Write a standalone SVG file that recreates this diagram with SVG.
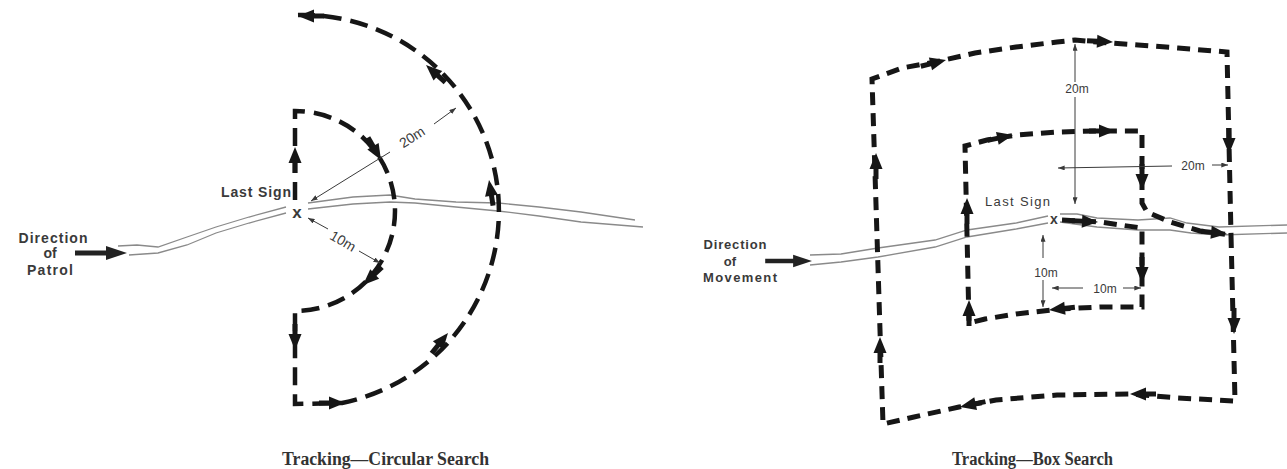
<svg xmlns="http://www.w3.org/2000/svg" width="1287" height="469" viewBox="0 0 1287 469">
<style>
.lp{fill:none;stroke:#161616;stroke-width:4.5;stroke-dasharray:18 9}
.rp{fill:none;stroke:#161616;stroke-width:5;stroke-dasharray:13 8;stroke-linejoin:miter}
.rv{fill:none;stroke:#8a8a8a;stroke-width:1.3}
.dm{fill:none;stroke:#3a3a3a;stroke-width:1;marker-end:url(#sm)}
.lb{font-family:"Liberation Sans",Arial,sans-serif;fill:#3a3a3a}
.b{font-weight:bold}
.cap{font-family:"Liberation Serif","Times New Roman",serif;font-weight:bold;font-size:18px;fill:#333}
.sh{stroke:#161616;stroke-width:5}
.hd{fill:#161616}
</style>
<defs>
<marker id="sm" viewBox="0 0 8 6" refX="8" refY="3" markerWidth="7" markerHeight="5" markerUnits="userSpaceOnUse" orient="auto"><path d="M0 0L8 3L0 6Z" fill="#3a3a3a"/></marker>
<g id="ar"><path class="sh" d="M-26 0H-10"/><path class="hd" d="M0 0L-16 -6.5L-16 6.5Z"/></g>
<g id="big"><path d="M-52 0H-17" stroke="#222" stroke-width="5"/><path d="M0 0L-21 -7L-21 7Z" fill="#222"/></g>
</defs>
<rect width="1287" height="469" fill="#fff"/>

<!-- LEFT: circular search -->
<g id="river-left">
<path class="rv" d="M118 246 L137 245 L158 247 L187 237 L216 227 L249 217 L286 207"/>
<path class="rv" d="M129 255 L158 253 L187 245 L216 233 L249 223 L286 213"/>
<path class="rv" d="M308 203 L353 197 L390 195 L415 199 L456 202 L498 203 L539 207 L581 212 L635 220"/>
<path class="rv" d="M308 209 L353 204 L390 202 L415 203 L456 207 L498 211 L539 216 L581 222 L643 227"/>
</g>
<g id="direction-patrol">
<text class="lb b" font-size="14" text-anchor="middle" x="53" y="243" textLength="69" lengthAdjust="spacing">Direction</text>
<text class="lb b" font-size="14" text-anchor="middle" x="50" y="258">of</text>
<text class="lb b" font-size="14" text-anchor="middle" x="50" y="275" textLength="46" lengthAdjust="spacing">Patrol</text>
<use href="#big" transform="translate(127,253)"/>
</g>
<g id="last-sign-left">
<text class="lb b" font-size="14" x="221" y="197" textLength="70" lengthAdjust="spacing">Last Sign</text>
<text class="lb b" font-size="17" text-anchor="middle" x="297" y="218" fill="#222">x</text>
</g>
<g id="connectors-left">
<path class="lp" d="M295 200 L295 111 A100 100 0 0 1 395 211 A100 100 0 0 1 295 311 L295 404 L342 403 A196 196 0 0 0 298 15"/>
<use href="#ar" transform="translate(295,147) rotate(-90)"/>
<use href="#ar" transform="translate(381,160) rotate(60)"/>
<use href="#ar" transform="translate(363,285) rotate(137)"/>
<use href="#ar" transform="translate(295,350) rotate(90)"/>
<use href="#ar" transform="translate(345,403) rotate(0)"/>
<use href="#ar" transform="translate(448,333) rotate(-51)"/>
<use href="#ar" transform="translate(489,180) rotate(-99)"/>
<use href="#ar" transform="translate(426,65) rotate(-138)"/>
<use href="#ar" transform="translate(298,16) rotate(180)"/>
<line class="dm" x1="328" y1="229" x2="308" y2="218"/>
<line class="dm" x1="359" y1="251" x2="380" y2="263"/>
<line class="dm" x1="390" y1="152" x2="311" y2="201"/>
<line class="dm" x1="434" y1="124" x2="456" y2="108"/>
</g>
<g id="dim-left">
<text class="lb" font-size="14" text-anchor="middle" transform="translate(343,241) rotate(30.5)" dy="5">10m</text>
<text class="lb" font-size="14" text-anchor="middle" transform="translate(412,137) rotate(-32.7)" dy="5">20m</text>
</g>
<text id="caption-left" class="cap" x="282" y="465" textLength="207" lengthAdjust="spacingAndGlyphs">Tracking—Circular Search</text>

<!-- RIGHT: box search -->
<g id="river-right">
<path class="rv" d="M810 255 L841 254 L878 248 L935 240 L967 230 L1016 223 L1048 216"/>
<path class="rv" d="M810 265 L841 262 L878 257 L935 247 L967 237 L1016 229 L1048 223"/>
<path class="rv" d="M1060 214 L1077 214 L1097 218 L1138 220 L1170 218 L1187 223 L1219 227 L1287 225"/>
<path class="rv" d="M1060 222 L1097 227 L1138 230 L1170 230 L1191 233 L1219 235 L1287 233"/>
</g>
<g id="direction-movement">
<text class="lb b" font-size="13" text-anchor="middle" x="735" y="249" textLength="63" lengthAdjust="spacing">Direction</text>
<text class="lb b" font-size="13" text-anchor="middle" x="730" y="266">of</text>
<text class="lb b" font-size="13" text-anchor="middle" x="740" y="282" textLength="74" lengthAdjust="spacing">Movement</text>
<use href="#big" transform="translate(812,261) scale(0.9)"/>
</g>
<g id="last-sign-right">
<text class="lb" font-size="13" x="985" y="206" textLength="65" lengthAdjust="spacing">Last Sign</text>
<text class="lb b" font-size="14" text-anchor="middle" x="1054" y="224" fill="#222">x</text>
</g>
<g id="connectors-right">
<path class="rp" d="M1062 220 L1100 222 L1120 225 L1142 228 L1142 307 L1100 307 L1060 309 L1016 314 L985 319 L969 323 L965 146 L987 140 L1016 135 L1057 132 L1097 131 L1142 131 L1142 203 L1147 212 L1170 222 L1200 231 L1231 235"/>
<path class="rp" d="M1231 235 L1235 401 L1178 398 L1130 394 L1057 395 L996 400 L959 407 L914 417 L883 424 L872 79 L902 68 L935 62 L975 53 L1016 47 L1057 42 L1075 40 L1097 42 L1138 45 L1178 48 L1227 52 L1231 235"/>
<use href="#ar" transform="translate(1098,222) rotate(3)"/>
<use href="#ar" transform="translate(1142,283) rotate(90)"/>
<use href="#ar" transform="translate(1049,310) rotate(174)"/>
<use href="#ar" transform="translate(969,300) rotate(-90)"/>
<use href="#ar" transform="translate(967,198) rotate(-90)"/>
<use href="#ar" transform="translate(1013,135) rotate(-12)"/>
<use href="#ar" transform="translate(1115,131) rotate(0)"/>
<use href="#ar" transform="translate(1142,190) rotate(90)"/>
<use href="#ar" transform="translate(1227,234) rotate(6)"/>
<use href="#ar" transform="translate(1234,334) rotate(90)"/>
<use href="#ar" transform="translate(1130,394) rotate(180)"/>
<use href="#ar" transform="translate(960,407) rotate(168)"/>
<use href="#ar" transform="translate(880,337) rotate(-90)"/>
<use href="#ar" transform="translate(876,153) rotate(-90)"/>
<use href="#ar" transform="translate(946,60) rotate(-14)"/>
<use href="#ar" transform="translate(1113,42) rotate(3)"/>
<use href="#ar" transform="translate(1229,154) rotate(90)"/>
<line class="dm" x1="1075" y1="82" x2="1075" y2="44"/>
<line class="dm" x1="1075" y1="97" x2="1075" y2="204"/>
<line class="dm" x1="1172" y1="166" x2="1058" y2="168"/>
<line class="dm" x1="1212" y1="165" x2="1228" y2="165"/>
<line class="dm" x1="1043" y1="258" x2="1043" y2="235"/>
<line class="dm" x1="1043" y1="280" x2="1043" y2="307"/>
<line class="dm" x1="1083" y1="288" x2="1052" y2="288"/>
<line class="dm" x1="1123" y1="288" x2="1141" y2="288"/>
</g>
<g id="dim-right">
<text class="lb" font-size="12" text-anchor="middle" x="1077" y="93">20m</text>
<text class="lb" font-size="12" text-anchor="middle" x="1193" y="170">20m</text>
<text class="lb" font-size="12" text-anchor="middle" x="1046" y="277">10m</text>
<text class="lb" font-size="12" text-anchor="middle" x="1105" y="293">10m</text>
</g>
<text id="caption-right" class="cap" x="952" y="465" textLength="161" lengthAdjust="spacingAndGlyphs">Tracking—Box Search</text>
</svg>
